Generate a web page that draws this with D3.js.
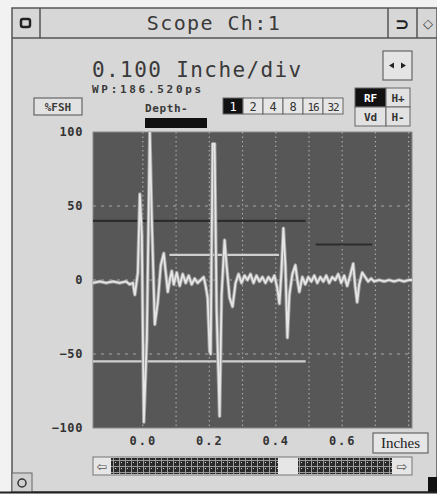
<!DOCTYPE html>
<html>
<head>
<meta charset="utf-8">
<script src="https://cdn.jsdelivr.net/npm/d3@7"></script>
<style>
  body { margin: 0; background: #f2f2f2; }
  svg { display: block; }
  .mono { font-family: "DejaVu Sans Mono", monospace; fill: #3a3a3a; }
</style>
</head>
<body>
<div id="scope"></div>
<script>
// trace samples: position (inches) and amplitude (%FSH)
const waveX = [-0.150, -0.130, -0.110, -0.090, -0.070, -0.050, -0.040, -0.030, -0.024, -0.015,
  -0.009, -0.003, 0.003, 0.012, 0.021, 0.027, 0.036, 0.045, 0.054, 0.063,
  0.069, 0.075, 0.081, 0.087, 0.093, 0.102, 0.111, 0.120, 0.129, 0.138,
  0.147, 0.156, 0.165, 0.174, 0.183, 0.189, 0.195, 0.201, 0.204, 0.210,
  0.216, 0.222, 0.231, 0.237, 0.246, 0.252, 0.261, 0.270, 0.279, 0.288,
  0.297, 0.306, 0.315, 0.324, 0.333, 0.342, 0.351, 0.360, 0.369, 0.378,
  0.387, 0.396, 0.405, 0.411, 0.417, 0.423, 0.429, 0.435, 0.441, 0.450,
  0.459, 0.465, 0.471, 0.480, 0.489, 0.498, 0.507, 0.516, 0.525, 0.534,
  0.543, 0.552, 0.561, 0.570, 0.579, 0.588, 0.597, 0.606, 0.615, 0.624,
  0.633, 0.639, 0.645, 0.651, 0.660, 0.669, 0.678, 0.687, 0.696, 0.711,
  0.726, 0.741, 0.756, 0.771, 0.786, 0.801, 0.810];
const waveY = [-2, -1, -2, -1, -2, -1, -3, -2, -10, 5,
  58, 30, -96, -40, 100, 40, -30, -15, 10, 18,
  5, -8, 0, 6, -3, 5, -4, 4, -2, 3,
  -3, 1, -2, 0, 2, -4, -12, -48, -50, 92,
  92, -20, -92, -10, 27, 10, -12, -18, -2, 4,
  -2, 3, 0, 4, -2, 3, -1, 2, -2, 2,
  -1, 3, -6, -16, 5, 35, 10, -39, -10, 4,
  10, 0, -8, 2, -3, 2, -1, 3, -2, 2,
  -1, 3, -2, 2, 0, 4, -2, 3, -4, 3,
  11, -4, -15, -3, 5, 2, -1, 1, -1, 0,
  -1, 0, -1, 0, -1, 0, 0];

// gate / cursor lines: level and start / end position
const cursorLevel = [40, 24, 17, -55];
const cursorStart = [-0.15, 0.52, 0.08, -0.15];
const cursorEnd = [0.49, 0.69, 0.41, 0.49];
const cursorDark = [true, true, false, false];

const gridX = [0, 0.1, 0.2, 0.3, 0.4, 0.5, 0.6, 0.7, 0.8];
const gridY = [50, 0, -50];
const xTicks = [0, 0.2, 0.4, 0.6];
const yTicks = [100, 50, 0, -50, -100];
const rangeSteps = ['1', '2', '4', '8', '16', '32'];

const W = 437, H = 494;
const plot = { left: 93, right: 412, top: 132, bottom: 428 };
const panel = '#d7d7d7';

const svg = d3.select('#scope').append('svg')
  .attr('width', W).attr('height', H);

const defs = svg.append('defs');
const hatch = defs.append('pattern')
  .attr('id', 'hatch').attr('patternUnits', 'userSpaceOnUse')
  .attr('x', 111).attr('y', 458)
  .attr('width', 6).attr('height', 6);
hatch.append('rect').attr('width', 6).attr('height', 6).attr('fill', '#2a2a2a');
hatch.append('rect').attr('x', 0).attr('y', 2).attr('width', 6).attr('height', 1).attr('fill', '#9a9a9a');
hatch.append('rect').attr('x', 2).attr('y', 0).attr('width', 1).attr('height', 6).attr('fill', '#9a9a9a');
hatch.append('rect').attr('x', 4).attr('y', 4).attr('width', 1).attr('height', 1).attr('fill', '#cfcfcf');
defs.append('clipPath').attr('id', 'clip')
  .append('rect')
  .attr('x', plot.left).attr('y', plot.top)
  .attr('width', plot.right - plot.left).attr('height', plot.bottom - plot.top);

// window frame
svg.append('rect').attr('x', 12).attr('y', 8).attr('width', W - 12).attr('height', 484)
  .attr('fill', panel).attr('stroke', '#555').attr('stroke-width', 1.5);
svg.append('line').attr('x1', 12).attr('x2', W).attr('y1', 38).attr('y2', 38)
  .attr('stroke', '#555').attr('stroke-width', 1.5);
[40, 388, 417].forEach(x => {
  svg.append('line').attr('x1', x).attr('x2', x).attr('y1', 8).attr('y2', 38)
    .attr('stroke', '#555').attr('stroke-width', 1.5);
});
svg.append('rect').attr('x', 21).attr('y', 19).attr('width', 9).attr('height', 8).attr('rx', 2)
  .attr('fill', 'none').attr('stroke', '#222').attr('stroke-width', 2.5);
svg.append('text').attr('class', 'mono').attr('x', 214).attr('y', 30)
  .attr('text-anchor', 'middle').attr('font-size', 20).attr('letter-spacing', 1.4)
  .text('Scope Ch:1');
svg.append('text').attr('x', 402).attr('y', 30).attr('text-anchor', 'middle')
  .attr('font-family', 'DejaVu Sans').attr('font-weight', 'bold').attr('font-size', 17)
  .attr('fill', '#222').text('⊃');
svg.append('text').attr('x', 428).attr('y', 28).attr('text-anchor', 'middle')
  .attr('font-family', 'DejaVu Sans').attr('font-size', 13).attr('fill', '#333').text('◇');

// header readouts
svg.append('text').attr('class', 'mono').attr('x', 92).attr('y', 77)
  .attr('font-size', 21).attr('letter-spacing', 1.4).text('0.100 Inche/div');
svg.append('text').attr('class', 'mono').attr('x', 92).attr('y', 93)
  .attr('font-size', 11).attr('font-weight', 'bold').attr('letter-spacing', 2.7)
  .text('WP:186.520ps');

svg.append('rect').attr('x', 383).attr('y', 51).attr('width', 29).attr('height', 29)
  .attr('fill', '#e4e4e4').attr('stroke', '#666').attr('stroke-width', 1.2);
svg.append('path').attr('d', 'M389,65.5 L394,62.5 L394,68.5 Z M406,65.5 L401,62.5 L401,68.5 Z')
  .attr('fill', '#222');

svg.append('rect').attr('x', 34).attr('y', 98).attr('width', 48).attr('height', 17)
  .attr('fill', '#e2e2e2').attr('stroke', '#666').attr('stroke-width', 1.2);
svg.append('text').attr('class', 'mono').attr('x', 58).attr('y', 111)
  .attr('text-anchor', 'middle').attr('font-size', 11).attr('font-weight', 'bold')
  .text('%FSH');

svg.append('text').attr('class', 'mono').attr('x', 145).attr('y', 112)
  .attr('font-size', 11).attr('font-weight', 'bold').attr('letter-spacing', 0.6)
  .text('Depth-');
svg.append('rect').attr('x', 145).attr('y', 118).attr('width', 62).attr('height', 10)
  .attr('fill', '#111');

// range buttons
const stepW = 20;
const steps = svg.append('g').attr('transform', 'translate(223,98)');
steps.selectAll('rect').data(rangeSteps).join('rect')
  .attr('x', (d, i) => i * stepW).attr('width', stepW).attr('height', 16)
  .attr('fill', (d, i) => i === 0 ? '#111' : '#e6e6e6')
  .attr('stroke', '#666').attr('stroke-width', 1);
steps.selectAll('text').data(rangeSteps).join('text')
  .attr('class', 'mono')
  .attr('x', (d, i) => i * stepW + stepW / 2).attr('y', 12.5)
  .attr('text-anchor', 'middle').attr('font-size', d => d.length > 1 ? 11 : 12)
  .attr('letter-spacing', d => d.length > 1 ? -1 : 0)
  .style('fill', (d, i) => i === 0 ? '#fff' : '#333')
  .text(d => d);

// RF / Vd / H+ / H- block
const modeCells = [
  { label: 'RF', x: 355, y: 88, w: 31, on: true },
  { label: 'H+', x: 386, y: 88, w: 24, on: false },
  { label: 'Vd', x: 355, y: 107, w: 31, on: false },
  { label: 'H-', x: 386, y: 107, w: 24, on: false },
];
const modes = svg.append('g');
modes.selectAll('rect').data(modeCells).join('rect')
  .attr('x', d => d.x).attr('y', d => d.y).attr('width', d => d.w).attr('height', 19)
  .attr('fill', d => d.on ? '#111' : '#e2e2e2').attr('stroke', '#666').attr('stroke-width', 1);
modes.selectAll('text').data(modeCells).join('text')
  .attr('class', 'mono')
  .attr('x', d => d.x + d.w / 2).attr('y', d => d.y + 14)
  .attr('text-anchor', 'middle').attr('font-size', 11).attr('font-weight', 'bold')
  .style('fill', d => d.on ? '#fff' : '#333')
  .text(d => d.label);

// plot
const x = d3.scaleLinear().domain([-0.15, 0.81]).range([plot.left, plot.right]);
const y = d3.scaleLinear().domain([-100, 100]).range([plot.bottom, plot.top]);

svg.append('rect')
  .attr('x', plot.left).attr('y', plot.top)
  .attr('width', plot.right - plot.left).attr('height', plot.bottom - plot.top)
  .attr('fill', '#575757').attr('stroke', '#8a8a8a').attr('stroke-width', 1);

const area = svg.append('g').attr('clip-path', 'url(#clip)');

area.selectAll('.gx').data(gridX).join('line')
  .attr('class', 'gx')
  .attr('x1', d => x(d)).attr('x2', d => x(d))
  .attr('y1', plot.top).attr('y2', plot.bottom)
  .attr('stroke', '#a8a8a8').attr('stroke-width', 1.2).attr('stroke-dasharray', '1.5,3');
area.selectAll('.gy').data(gridY).join('line')
  .attr('class', 'gy')
  .attr('x1', plot.left).attr('x2', plot.right)
  .attr('y1', d => y(d)).attr('y2', d => y(d))
  .attr('stroke', '#a8a8a8').attr('stroke-width', 1.2).attr('stroke-dasharray', '3,5');

const cursors = cursorLevel.map((v, i) => ({
  v, x0: cursorStart[i], x1: cursorEnd[i], dark: cursorDark[i]
}));
area.selectAll('.cursor').data(cursors).join('line')
  .attr('class', 'cursor')
  .attr('x1', d => x(d.x0)).attr('x2', d => x(d.x1))
  .attr('y1', d => y(d.v)).attr('y2', d => y(d.v))
  .attr('stroke', d => d.dark ? '#2c2c2c' : '#cfcfcf')
  .attr('stroke-width', 2.2);

const wave = waveX.map((v, i) => [v, waveY[i]]);
const line = d3.line().x(d => x(d[0])).y(d => y(d[1]));
area.append('path').datum(wave)
  .attr('d', line).attr('fill', 'none')
  .attr('stroke', '#9c9c9c').attr('stroke-width', 3.6).attr('stroke-linejoin', 'round');
area.append('path').datum(wave)
  .attr('d', line).attr('fill', 'none')
  .attr('stroke', '#e6e6e6').attr('stroke-width', 1.8).attr('stroke-linejoin', 'round');

// axes
const yAxis = svg.append('g')
  .attr('transform', `translate(${plot.left},0)`)
  .call(d3.axisLeft(y).tickValues(yTicks).tickSize(0).tickPadding(10).tickFormat(d3.format('d')));
yAxis.select('.domain').remove();
yAxis.selectAll('text')
  .attr('font-family', 'DejaVu Sans Mono').attr('font-weight', 'bold')
  .attr('font-size', 12).attr('letter-spacing', 0.6).attr('fill', '#333');

const xAxis = svg.append('g')
  .attr('transform', `translate(0,${plot.bottom})`)
  .call(d3.axisBottom(x).tickValues(xTicks).tickSize(0).tickPadding(8).tickFormat(d3.format('.1f')));
xAxis.select('.domain').remove();
xAxis.selectAll('text')
  .attr('font-family', 'DejaVu Sans Mono').attr('font-weight', 'bold')
  .attr('font-size', 12).attr('letter-spacing', 2).attr('fill', '#333');

svg.append('rect').attr('x', 373).attr('y', 433).attr('width', 55).attr('height', 20)
  .attr('fill', '#e6e6e6').attr('stroke', '#666').attr('stroke-width', 1.2);
svg.append('text').attr('x', 400.5).attr('y', 448).attr('text-anchor', 'middle')
  .attr('font-family', 'Liberation Serif').attr('font-size', 15).attr('fill', '#222')
  .text('Inches');

// scroll bar
svg.append('rect').attr('x', 93).attr('y', 457).attr('width', 319).attr('height', 18)
  .attr('fill', '#e6e6e6').attr('stroke', '#777').attr('stroke-width', 1);
svg.append('rect').attr('x', 111).attr('y', 458).attr('width', 167).attr('height', 16)
  .attr('fill', 'url(#hatch)');
svg.append('rect').attr('x', 298).attr('y', 458).attr('width', 94).attr('height', 16)
  .attr('fill', 'url(#hatch)');
svg.append('text').attr('x', 102).attr('y', 471).attr('text-anchor', 'middle')
  .attr('font-family', 'DejaVu Sans').attr('font-size', 13).attr('fill', '#555').text('⇦');
svg.append('text').attr('x', 402).attr('y', 471).attr('text-anchor', 'middle')
  .attr('font-family', 'DejaVu Sans').attr('font-size', 13).attr('fill', '#555').text('⇨');

// corner buttons
svg.append('rect').attr('x', 12).attr('y', 473).attr('width', 20).attr('height', 19)
  .attr('fill', '#d0d0d0').attr('stroke', '#666').attr('stroke-width', 1);
svg.append('circle').attr('cx', 22).attr('cy', 483).attr('r', 4)
  .attr('fill', 'none').attr('stroke', '#333').attr('stroke-width', 1.5);
svg.append('rect').attr('x', 428).attr('y', 477).attr('width', 9).attr('height', 15)
  .attr('fill', '#111');
svg.append('line').attr('x1', 0).attr('x2', W).attr('y1', 492.5).attr('y2', 492.5)
  .attr('stroke', '#222').attr('stroke-width', 2);
</script>
</body>
</html>
